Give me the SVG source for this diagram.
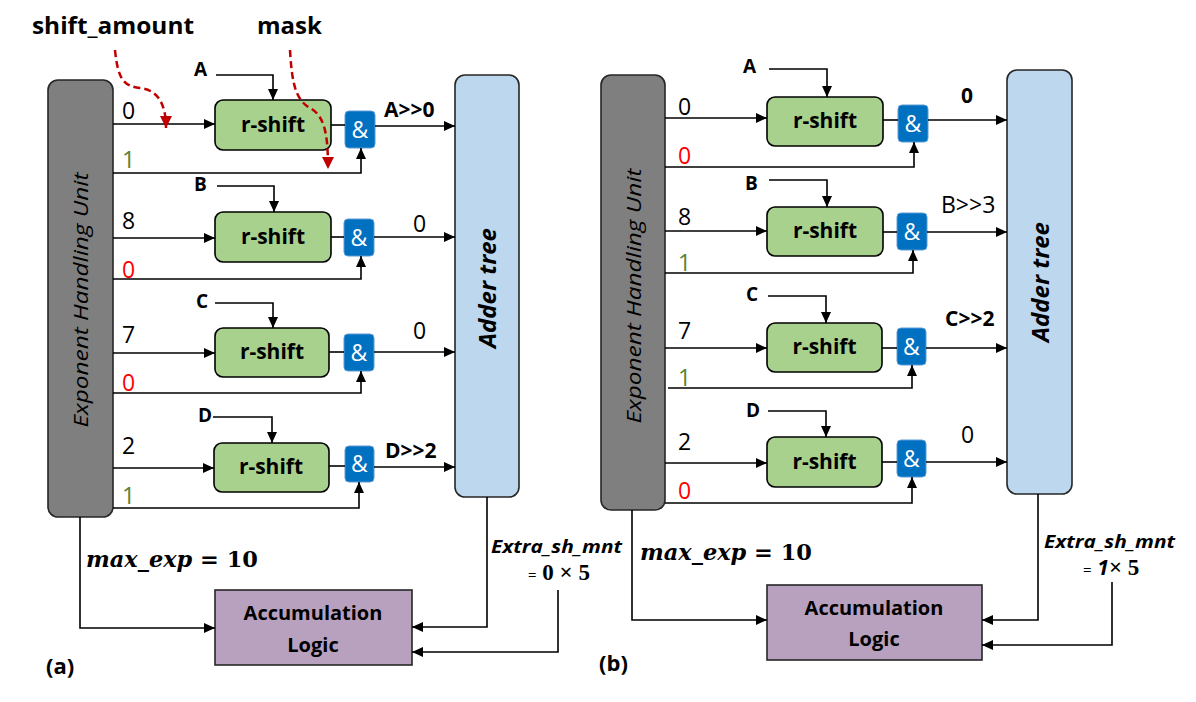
<svg xmlns="http://www.w3.org/2000/svg" width="1196" height="702" viewBox="0 0 1196 702">
<defs>
<marker id="ah" markerUnits="userSpaceOnUse" markerWidth="11" markerHeight="10" refX="11" refY="5" orient="auto"><path d="M0,0 L11,5 L0,10 z" fill="#000"/></marker>
<marker id="ahr" markerUnits="userSpaceOnUse" markerWidth="12" markerHeight="12" refX="12" refY="6" orient="auto"><path d="M0,0 L12,6 L0,12 z" fill="#C00000"/></marker>
<style>
.ln{fill:none;stroke:#000;stroke-width:1.6}
.ar{fill:none;stroke:#000;stroke-width:1.6;marker-end:url(#ah)}
.ehu{fill:#7F7F7F;stroke:#262626;stroke-width:1.6}
.add{fill:#BDD7EE;stroke:#262626;stroke-width:1.6}
.rs{fill:#A9D18E;stroke:#000;stroke-width:1.6}
.and{fill:#0070C0;stroke:#5B9BD5;stroke-width:1}
.acc{fill:#B7A1BE;stroke:#262626;stroke-width:1.6}
.t{font-family:"Open Sans","Liberation Sans",sans-serif;fill:#000}
.b{font-weight:bold}
.i{font-style:italic}
.num{font-size:23px}
.lab{font-size:19px;font-weight:bold}
.rst{font-size:21px;font-weight:bold;text-anchor:middle}
.amp{font-size:23px;fill:#fff;text-anchor:middle}
.red{fill:#FF0000}
.grn{fill:#548235}
.math{font-family:"DejaVu Serif","Liberation Serif",serif;font-weight:bold;fill:#000}
.ms{font-family:"Liberation Serif","DejaVu Serif",serif;font-weight:bold;fill:#000}
.rd{fill:none;stroke:#C00000;stroke-width:2.5;stroke-dasharray:7 4;marker-end:url(#ahr)}
</style>
</defs>

<!-- ============ (a) ============ -->
<g id="ehu-a"><rect class="ehu" x="48" y="80" width="65" height="437" rx="10"/>
<text class="t i" font-size="20" transform="translate(88,300) rotate(-90)" text-anchor="middle" textLength="255" lengthAdjust="spacingAndGlyphs" fill="#1a1a1a">Exponent Handling Unit</text></g>
<g id="adder-a"><rect class="add" x="455" y="75" width="64" height="422" rx="10"/>
<text class="t b i" font-size="24" transform="translate(496,288) rotate(-90)" text-anchor="middle">Adder tree</text></g>

<g id="rs-a1"><rect class="rs" x="215" y="100" width="116" height="50" rx="8"/><text class="t rst" x="273" y="132">r-shift</text></g>
<g id="rs-a2"><rect class="rs" x="215" y="212" width="116" height="50" rx="8"/><text class="t rst" x="273" y="244">r-shift</text></g>
<g id="rs-a3"><rect class="rs" x="215" y="328" width="114" height="49" rx="8"/><text class="t rst" x="272" y="359">r-shift</text></g>
<g id="rs-a4"><rect class="rs" x="214" y="443" width="115" height="49" rx="8"/><text class="t rst" x="271" y="474">r-shift</text></g>

<g id="and-a1"><rect class="and" x="345" y="111" width="30" height="37" rx="4"/><text class="t amp" x="360" y="138">&amp;</text></g>
<g id="and-a2"><rect class="and" x="344" y="219" width="30" height="37" rx="4"/><text class="t amp" x="359" y="246">&amp;</text></g>
<g id="and-a3"><rect class="and" x="344" y="334" width="30" height="37" rx="4"/><text class="t amp" x="359" y="361">&amp;</text></g>
<g id="and-a4"><rect class="and" x="345" y="446" width="29" height="36" rx="4"/><text class="t amp" x="359.5" y="472">&amp;</text></g>

<g id="acc-a"><rect class="acc" x="215" y="590" width="197" height="75"/>
<text class="t b" font-size="20" x="313" y="620" text-anchor="middle" fill="#222">Accumulation</text>
<text class="t b" font-size="20" x="313" y="652" text-anchor="middle" fill="#222">Logic</text></g>

<g id="conn-a">
<path class="ar" d="M113,124 H215"/><path class="ar" d="M113,173 H361 V148"/>
<path class="ar" d="M113,238 H215"/><path class="ar" d="M113,279 H361 V256"/>
<path class="ar" d="M113,353 H215"/><path class="ar" d="M113,393 H361 V371"/>
<path class="ar" d="M113,468 H214"/><path class="ar" d="M113,508 H359 V482"/>
<path class="ar" d="M216,75 H273 V100"/><path class="ar" d="M217,186 H274 V212"/>
<path class="ar" d="M215,303 H273 V328"/><path class="ar" d="M213,417 H272 V443"/>
<path class="ln" d="M331,125 H345"/><path class="ln" d="M331,237 H344"/><path class="ln" d="M329,352 H344"/><path class="ln" d="M329,466 H345"/>
<path class="ar" d="M375,126 H455"/><path class="ar" d="M374,237 H455"/><path class="ar" d="M374,352 H455"/><path class="ar" d="M374,467 H455"/>
<path class="ar" d="M80,517 V628 H215"/>
<path class="ar" d="M487,497 V627 H412"/>
<path class="ar" d="M558,590 V652 H412"/>
<path class="rd" d="M115,50 C118,80 124,86 140,88 C158,90 166,104 166,128"/>
<path class="rd" d="M290,50 C292,85 296,100 310,108 C325,116 328,135 328,169"/>
</g>

<g id="labels-a">
<text class="t b" font-size="24" x="32" y="34" textLength="162" lengthAdjust="spacingAndGlyphs">shift_amount</text>
<text class="t b" font-size="24" x="257" y="34">mask</text>
<text class="t lab" x="194" y="76">A</text>
<text class="t lab" x="194" y="191">B</text>
<text class="t lab" x="196" y="308">C</text>
<text class="t lab" x="198" y="422">D</text>
<text class="t num" x="122" y="119">0</text>
<text class="t num grn" x="122" y="168">1</text>
<text class="t num" x="122" y="229">8</text>
<text class="t num red" x="122" y="278">0</text>
<text class="t num" x="122" y="343">7</text>
<text class="t num red" x="122" y="391">0</text>
<text class="t num" x="122" y="454">2</text>
<text class="t num grn" x="122" y="504">1</text>
<text class="t b" font-size="21" x="384" y="117">A&gt;&gt;0</text>
<text class="t num" x="413" y="232">0</text>
<text class="t num" x="413" y="339">0</text>
<text class="t b" font-size="21" x="385" y="458">D&gt;&gt;2</text>
<text class="math" font-size="22" x="86" y="567" textLength="172" lengthAdjust="spacingAndGlyphs"><tspan font-style="italic">max_exp</tspan> = 10</text>
<text class="t b i" font-size="18" x="491" y="553" textLength="131" lengthAdjust="spacingAndGlyphs">Extra_sh_mnt</text>
<text class="ms" font-size="23" x="528" y="580"><tspan font-size="15">=</tspan> 0 × 5</text>
<text class="t b" font-size="22" x="46" y="674">(a)</text>
</g>

<!-- ============ (b) ============ -->
<g id="ehu-b"><rect class="ehu" x="601" y="75" width="64" height="435" rx="10"/>
<text class="t i" font-size="20" transform="translate(641,296) rotate(-90)" text-anchor="middle" textLength="255" lengthAdjust="spacingAndGlyphs" fill="#1a1a1a">Exponent Handling Unit</text></g>
<g id="adder-b"><rect class="add" x="1007" y="70" width="65" height="424" rx="10"/>
<text class="t b i" font-size="24" transform="translate(1049,282) rotate(-90)" text-anchor="middle">Adder tree</text></g>

<g id="rs-b1"><rect class="rs" x="767" y="97" width="116" height="49" rx="8"/><text class="t rst" x="825" y="128">r-shift</text></g>
<g id="rs-b2"><rect class="rs" x="767" y="207" width="116" height="49" rx="8"/><text class="t rst" x="825" y="238">r-shift</text></g>
<g id="rs-b3"><rect class="rs" x="767" y="323" width="115" height="49" rx="8"/><text class="t rst" x="824.5" y="354">r-shift</text></g>
<g id="rs-b4"><rect class="rs" x="767" y="437" width="115" height="50" rx="8"/><text class="t rst" x="824.5" y="469">r-shift</text></g>

<g id="and-b1"><rect class="and" x="898" y="105" width="30" height="37" rx="4"/><text class="t amp" x="913" y="132">&amp;</text></g>
<g id="and-b2"><rect class="and" x="897" y="213" width="30" height="37" rx="4"/><text class="t amp" x="912" y="240">&amp;</text></g>
<g id="and-b3"><rect class="and" x="897" y="328" width="29" height="37" rx="4"/><text class="t amp" x="911.5" y="355">&amp;</text></g>
<g id="and-b4"><rect class="and" x="897" y="440" width="29" height="37" rx="4"/><text class="t amp" x="911.5" y="467">&amp;</text></g>

<g id="acc-b"><rect class="acc" x="767" y="585" width="215" height="75"/>
<text class="t b" font-size="20" x="874" y="615" text-anchor="middle" fill="#222">Accumulation</text>
<text class="t b" font-size="20" x="874" y="646" text-anchor="middle" fill="#222">Logic</text></g>

<g id="conn-b">
<path class="ar" d="M665,118 H767"/><path class="ar" d="M665,167 H914 V142"/>
<path class="ar" d="M665,231 H767"/><path class="ar" d="M665,273 H913 V250"/>
<path class="ar" d="M665,348 H767"/><path class="ar" d="M668,388 H912 V365"/>
<path class="ar" d="M665,463 H767"/><path class="ar" d="M665,503 H912 V477"/>
<path class="ar" d="M769,69 H827 V97"/><path class="ar" d="M769,180 H827 V207"/>
<path class="ar" d="M768,296 H826 V323"/><path class="ar" d="M768,411 H826 V437"/>
<path class="ln" d="M883,120 H898"/><path class="ln" d="M883,232 H897"/><path class="ln" d="M882,348 H897"/><path class="ln" d="M882,462 H897"/>
<path class="ar" d="M928,120 H1007"/><path class="ar" d="M927,232 H1007"/><path class="ar" d="M926,348 H1007"/><path class="ar" d="M926,462 H1007"/>
<path class="ar" d="M632,510 V620 H767"/>
<path class="ar" d="M1038,494 V620 H982"/>
<path class="ar" d="M1112,582 V645 H982"/>
</g>

<g id="labels-b">
<text class="t lab" x="743" y="73">A</text>
<text class="t lab" x="745" y="190">B</text>
<text class="t lab" x="746" y="301">C</text>
<text class="t lab" x="746" y="417">D</text>
<text class="t num" x="678" y="115">0</text>
<text class="t num red" x="678" y="164">0</text>
<text class="t num" x="678" y="225">8</text>
<text class="t num grn" x="678" y="271">1</text>
<text class="t num" x="678" y="339">7</text>
<text class="t num grn" x="678" y="386">1</text>
<text class="t num" x="678" y="450">2</text>
<text class="t num red" x="678" y="499">0</text>
<text class="t b" font-size="21" x="961" y="103">0</text>
<text class="t num" x="941" y="213">B&gt;&gt;3</text>
<text class="t b" font-size="21" x="945" y="326">C&gt;&gt;2</text>
<text class="t num" x="961" y="443">0</text>
<text class="math" font-size="22" x="640" y="560" textLength="172" lengthAdjust="spacingAndGlyphs"><tspan font-style="italic">max_exp</tspan> = 10</text>
<text class="t b i" font-size="18" x="1044" y="548" textLength="131" lengthAdjust="spacingAndGlyphs">Extra_sh_mnt</text>
<text class="ms" font-size="23" x="1083" y="575"><tspan font-size="15">=</tspan> <tspan class="t i" font-weight="bold" font-size="21">1</tspan>× 5</text>
<text class="t b" font-size="22" x="599" y="671">(b)</text>
</g>
</svg>
